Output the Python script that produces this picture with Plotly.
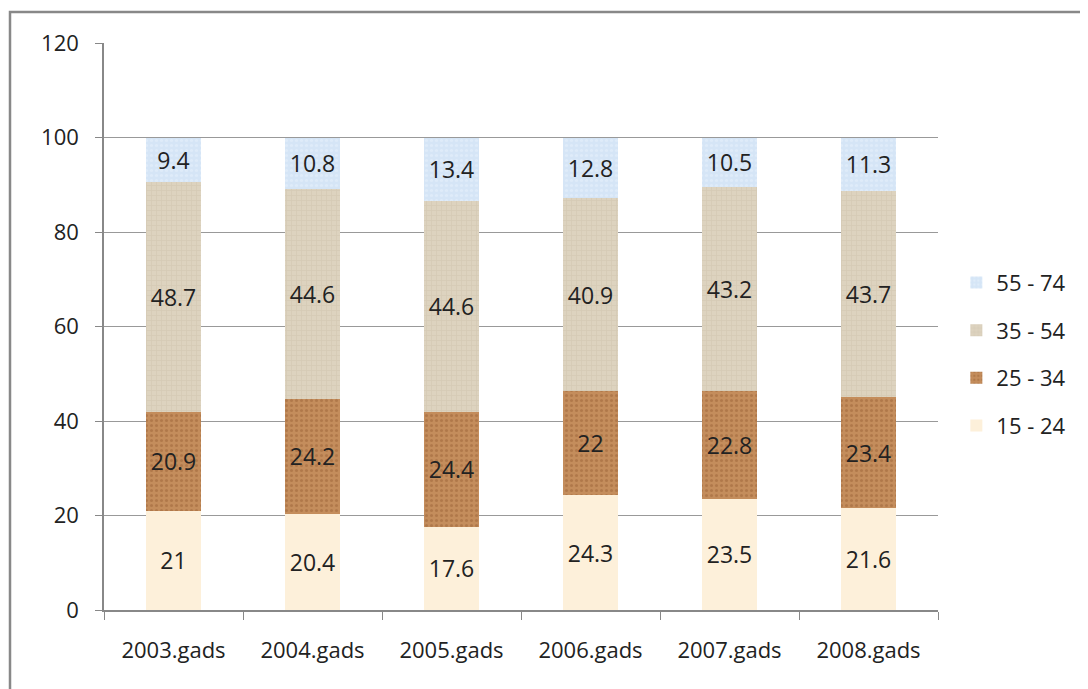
import plotly.graph_objects as go

years = ['2003.gads', '2004.gads', '2005.gads', '2006.gads', '2007.gads', '2008.gads']
age_15_24 = [21, 20.4, 17.6, 24.3, 23.5, 21.6]
age_25_34 = [20.9, 24.2, 24.4, 22, 22.8, 23.4]
age_35_54 = [48.7, 44.6, 44.6, 40.9, 43.2, 43.7]
age_55_74 = [9.4, 10.8, 13.4, 12.8, 10.5, 11.3]

series = [
    ('15 - 24', age_15_24, '#fdf0da', '', '#f6e6c8'),
    ('25 - 34', age_25_34, '#c48d5c', '.', '#9c6438'),
    ('35 - 54', age_35_54, '#ddd3bf', '+', '#cdc2ab'),
    ('55 - 74', age_55_74, '#d5e5f6', '.', '#e8f1fb'),
]

font = 'Open Sans'
fig = go.Figure()
for i, (name, vals, color, shape, fg) in enumerate(series):
    fig.add_trace(go.Bar(
        name=name, x=years, y=vals, text=[str(v) for v in vals],
        textposition='inside', insidetextanchor='middle', textangle=0,
        textfont=dict(family=font, size=23, color='#222222'),
        legendgroup=str(i), legendrank=len(series) - i,
        marker=dict(color=color, line=dict(width=0),
                    pattern=dict(shape=shape, fgcolor=fg, size=5, solidity=0.3)),
    ))

# the page body adds 8px around the figure, so margins are offset by that
fig.update_layout(
    barmode='stack', bargap=0.6,
    width=1080, height=681,
    margin=dict(l=96, r=150, t=35, b=79),
    plot_bgcolor='white', paper_bgcolor='white',
    font=dict(family=font, size=22, color='#222222'),
    legend=dict(x=1.022, y=0.451, yanchor='middle', traceorder='grouped',
                tracegroupgap=16, font=dict(size=22)),
    xaxis=dict(showline=True, linecolor='#888888', linewidth=1.5, ticks='outside',
               tickson='boundaries', ticklen=8, tickcolor='#888888',
               ticklabelstandoff=20),
    yaxis=dict(range=[0, 120], dtick=20, showline=True, linecolor='#888888', linewidth=1.5,
               ticks='outside', ticklen=7, tickcolor='#888888', ticklabelstandoff=12,
               showgrid=True, gridcolor='#999999', gridwidth=1),
    shapes=[dict(type='rect', xref='paper', yref='paper',
                 x0=(10 - 104) / 834, x1=(1100 - 104) / 834,
                 y0=(610 - 700) / 567, y1=(610 - 12) / 567,
                 line=dict(color='#888888', width=2.5), layer='below')],
)

fig.write_html('out.html')
